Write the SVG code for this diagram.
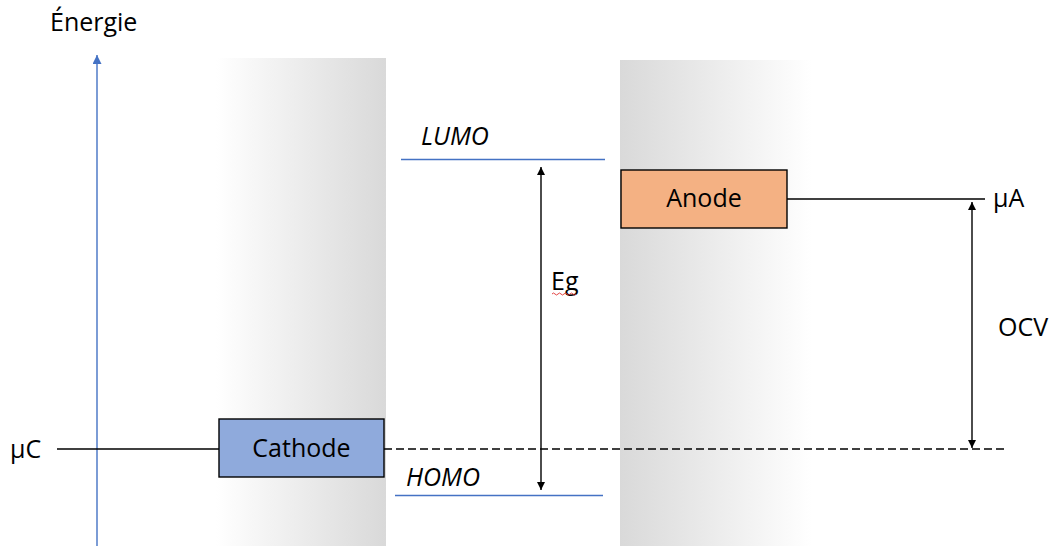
<svg xmlns="http://www.w3.org/2000/svg" width="1053" height="546" viewBox="0 0 1053 546">
<style>
.t{font-family:"Open Sans","Liberation Sans",sans-serif;font-size:25px;fill:#000}
.i{font-style:italic}
.ln{stroke:#000;stroke-width:1.4;fill:none}
.bl{stroke:#4472c4;stroke-width:1.4;fill:none}
.box{stroke:#000;stroke-width:1.4}
</style>
<defs>
<linearGradient id="gL" x1="0" y1="0" x2="1" y2="0"><stop offset="0" stop-color="#fff"/><stop offset="1" stop-color="#d9d9d9"/></linearGradient>
<linearGradient id="gR" x1="0" y1="0" x2="1" y2="0"><stop offset="0" stop-color="#d9d9d9"/><stop offset="1" stop-color="#fff"/></linearGradient>
<marker id="ah" viewBox="0 0 10 10" refX="10" refY="5" markerWidth="8" markerHeight="8" markerUnits="userSpaceOnUse" orient="auto-start-reverse"><path d="M0,0 L10,5 L0,10 z" fill="#000"/></marker>
<marker id="ab" viewBox="0 0 10 10" refX="10" refY="5" markerWidth="9" markerHeight="9" markerUnits="userSpaceOnUse" orient="auto"><path d="M0,0 L10,5 L0,10 z" fill="#4472c4"/></marker>
</defs>
<rect width="1053" height="546" fill="#fff"/>
<g id="panels">
<rect x="216" y="58" width="170" height="488" fill="url(#gL)"/>
<rect x="620" y="60" width="192" height="486" fill="url(#gR)"/>
</g>
<g id="axis">
<line x1="97" y1="546" x2="97" y2="55" class="bl" marker-end="url(#ab)"/>
<text x="50" y="31" class="t">Énergie</text>
</g>
<g id="connectors">
<line x1="401" y1="159.5" x2="605" y2="159.5" class="bl"/>
<line x1="395" y1="495.5" x2="603" y2="495.5" class="bl"/>
<line x1="541" y1="167" x2="541" y2="490" class="ln" marker-start="url(#ah)" marker-end="url(#ah)"/>
<line x1="787" y1="199" x2="985" y2="199" class="ln"/>
<line x1="57" y1="449" x2="219" y2="449" class="ln"/>
<line x1="384" y1="449" x2="1006" y2="449" class="ln" stroke-dasharray="8,4"/>
<line x1="972" y1="202" x2="972" y2="448" class="ln" marker-start="url(#ah)" marker-end="url(#ah)"/>
</g>
<g id="lumo"><text x="421" y="145" class="t i">LUMO</text></g>
<g id="homo"><text x="406" y="486" class="t i">HOMO</text></g>
<g id="eg">
<text x="551" y="290" class="t">Eg</text>
<path d="M552,294 q1.5,-2 3,0 t3,0 t3,0 t3,0 t3,0 t3,0 t3,0 t3,0" fill="none" stroke="#e03030" stroke-width="0.9"/>
</g>
<g id="anode">
<rect x="621" y="170" width="166" height="58" fill="#f4b183" class="box"/>
<text x="704" y="207" class="t" text-anchor="middle">Anode</text>
</g>
<g id="cathode">
<rect x="219" y="419" width="165" height="58" fill="#8faadc" class="box"/>
<text x="301.5" y="457" class="t" text-anchor="middle">Cathode</text>
</g>
<g id="muA"><text x="993" y="207" class="t">µA</text></g>
<g id="muC"><text x="10" y="458" class="t">µC</text></g>
<g id="ocv"><text x="998" y="336" class="t">OCV</text></g>
</svg>
